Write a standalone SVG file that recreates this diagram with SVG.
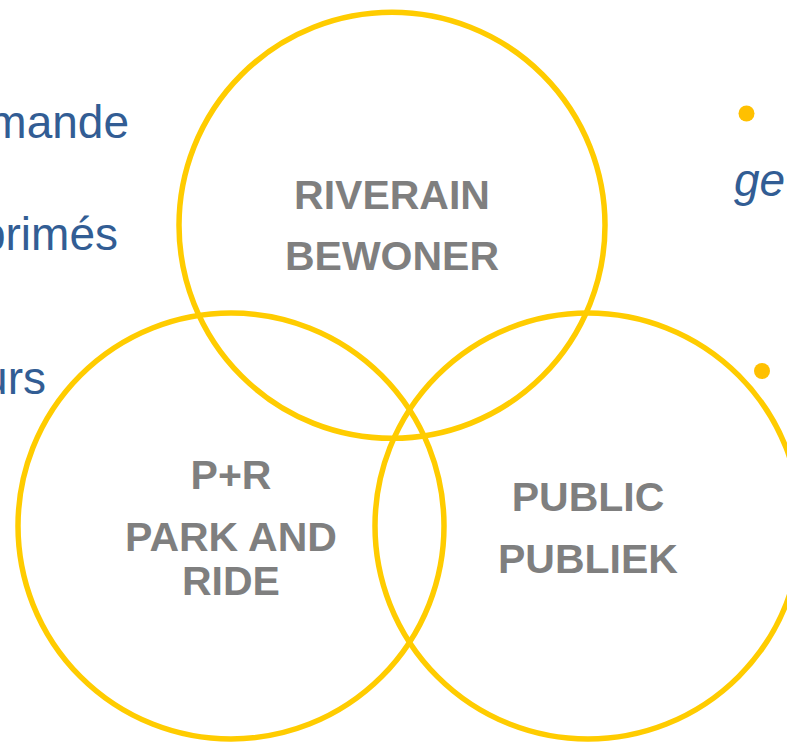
<svg xmlns="http://www.w3.org/2000/svg" width="787" height="745" viewBox="0 0 787 745">
  <style>
    .ring { fill: none; stroke: #FFCC00; stroke-width: 5.5; }
    .label { font-family: "Liberation Sans", Arial, sans-serif; font-weight: bold; font-size: 41px; fill: #7F7F7F; text-anchor: middle; }
    .body { font-family: "Liberation Sans", Arial, sans-serif; font-size: 46px; fill: #325D94; }
    .bullet { fill: #FFC000; }
  </style>
  <rect width="787" height="745" fill="#FFFFFF"/>
  <g id="background-text">
    <text class="body" x="129" y="138" text-anchor="end">mande</text>
    <text class="body" x="118" y="250" text-anchor="end">primés</text>
    <text class="body" x="46" y="394" text-anchor="end">urs</text>
    <circle class="bullet" cx="746.5" cy="113.5" r="8"/>
    <text class="body" x="734" y="196" font-style="italic">ge</text>
    <circle class="bullet" cx="762" cy="371" r="8"/>
  </g>
  <g id="connectors"></g>
  <g id="node-riverain">
    <circle class="ring" cx="392" cy="225.3" r="213"/>
    <text class="label" x="392" y="208.5">RIVERAIN</text>
    <text class="label" x="392" y="269.5">BEWONER</text>
  </g>
  <g id="node-park-and-ride">
    <circle class="ring" cx="231" cy="526" r="213"/>
    <text class="label" x="231" y="489">P+R</text>
    <text class="label" x="231" y="550.7">PARK AND</text>
    <text class="label" x="231" y="594.7">RIDE</text>
  </g>
  <g id="node-public">
    <circle class="ring" cx="588" cy="526" r="213"/>
    <text class="label" x="588" y="510.7">PUBLIC</text>
    <text class="label" x="588" y="572.7">PUBLIEK</text>
  </g>
</svg>
